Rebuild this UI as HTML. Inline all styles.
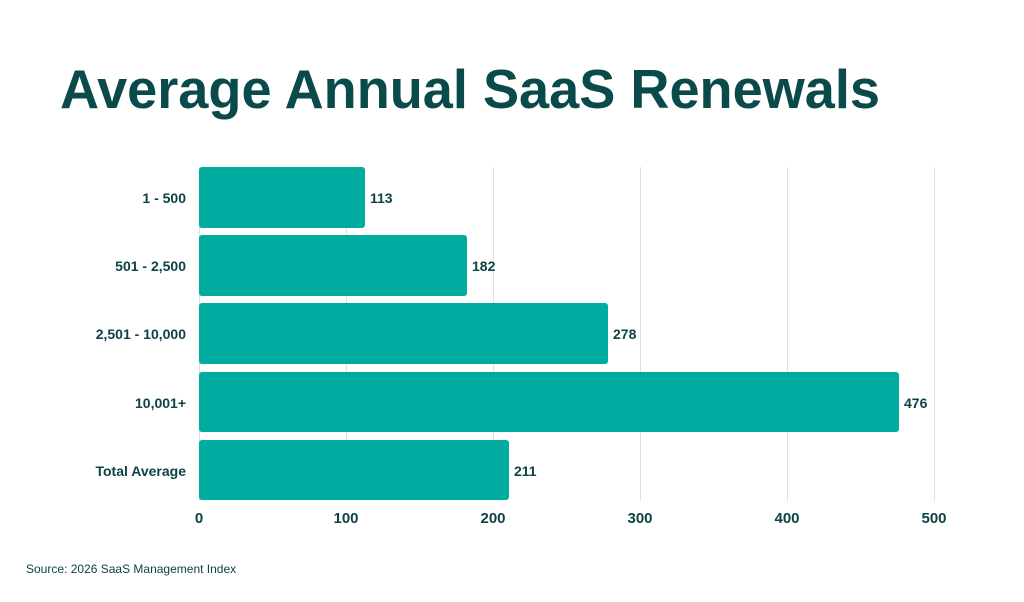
<!DOCTYPE html>
<html><head><style>
body{margin:0;width:1024px;height:597px;background:#fff;overflow:hidden;font-family:"Liberation Sans",sans-serif;color:#0d4247}
</style></head><body>
<svg width="1024" height="597" xmlns="http://www.w3.org/2000/svg" font-family="Liberation Sans, sans-serif">
<text x="60" y="108" font-size="55" font-weight="bold" fill="#0b4a4a" textLength="820" lengthAdjust="spacingAndGlyphs">Average Annual SaaS Renewals</text>
<g stroke="#d9e3e3" stroke-width="1">
<line x1="199.5" y1="167" x2="199.5" y2="501"/>
<line x1="346.5" y1="167" x2="346.5" y2="501"/>
<line x1="493.5" y1="167" x2="493.5" y2="501"/>
<line x1="640.5" y1="167" x2="640.5" y2="501"/>
<line x1="787.5" y1="167" x2="787.5" y2="501"/>
<line x1="934.5" y1="167" x2="934.5" y2="501"/>
</g>
<g fill="#00ab9f">
<rect x="199" y="167" width="166" height="61" rx="3"/>
<rect x="199" y="235" width="268" height="61" rx="3"/>
<rect x="199" y="303" width="409" height="61" rx="3"/>
<rect x="199" y="372" width="700" height="60" rx="3"/>
<rect x="199" y="440" width="310" height="60" rx="3"/>
</g>
<g font-size="14" font-weight="bold" fill="#0d4247">
<text x="370" y="203">113</text>
<text x="472" y="271">182</text>
<text x="613" y="339">278</text>
<text x="904" y="408">476</text>
<text x="514" y="476">211</text>
<g text-anchor="end">
<text x="186" y="203">1 - 500</text>
<text x="186" y="271">501 - 2,500</text>
<text x="186" y="339">2,501 - 10,000</text>
<text x="186" y="408">10,001+</text>
<text x="186" y="476">Total Average</text>
</g>
<g text-anchor="middle" font-size="15">
<text x="199" y="523">0</text>
<text x="346" y="523">100</text>
<text x="493" y="523">200</text>
<text x="640" y="523">300</text>
<text x="787" y="523">400</text>
<text x="934" y="523">500</text>
</g>
</g>
<text x="26" y="573" font-size="12" fill="#0d4247">Source: 2026 SaaS Management Index</text>
</svg>
</body></html>
